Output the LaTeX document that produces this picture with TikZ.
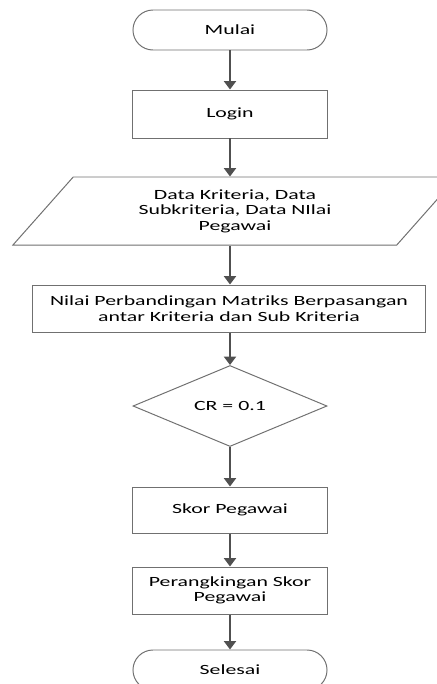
\documentclass[tikz,border=0pt]{standalone}
\usepackage{fontspec}
\newfontfamily\flowfont{Carlito}[FakeStretch=1.55]
\usepackage{tikz}
\usetikzlibrary{arrows.meta,positioning,shapes.geometric,calc}

\definecolor{flowline}{HTML}{707070}
\definecolor{flowarrow}{HTML}{505050}

\begin{document}
\begin{tikzpicture}[
  x=0.025cm, y=-0.025cm,
  box/.style={draw=flowline, fill=white, line width=0.7pt,
    minimum width=4.85cm, minimum height=1.2cm, align=center,
    font=\flowfont\fontsize{10}{11}\selectfont},
  term/.style={box, rounded corners=0.5cm, minimum height=1cm},
  iobox/.style={box, trapezium, trapezium left angle=41, trapezium right angle=139,
    trapezium stretches body=true, minimum width=11.1cm, minimum height=1.7cm},
  decide/.style={box, diamond, minimum width=4.85cm, minimum height=2cm, inner sep=0pt},
  arr/.style={-{Triangle[length=2.1mm, width=3mm]}, line width=1.4pt, draw=flowarrow}
]
  \useasboundingbox (0,0) rectangle (436,684);
  \node[term] (mulai) at (230,30) {Mulai};
  \node[box] (login) at (230,114) {Login};
  \node[iobox] (data) at (235,211) {Data Kriteria, Data\\Subkriteria, Data NIlai\\Pegawai};
  \node[box, minimum width=9.8cm, minimum height=1.175cm] (nilai) at (229,308.5)
    {Nilai Perbandingan Matriks Berpasangan\\antar Kriteria dan Sub Kriteria};
  \node[decide] (cr) at (230,406) {CR = 0.1};
  \node[box, minimum height=1.15cm] (skor) at (230,510) {Skor Pegawai};
  \node[box, minimum height=1.175cm] (rank) at (230,590.5) {Perangkingan Skor\\Pegawai};
  \node[term] (selesai) at (230,670) {Selesai};
  \draw[arr] (mulai) -- (login);
  \draw[arr] (login.south) -- (login.south |- data.north);
  \draw[arr] (login.south |- data.south) -- (login.south |- nilai.north);
  \draw[arr] (login.south |- nilai.south) -- (cr);
  \draw[arr] (cr) -- (skor);
  \draw[arr] (skor) -- (rank);
  \draw[arr] (rank) -- (selesai);
\end{tikzpicture}
\end{document}
